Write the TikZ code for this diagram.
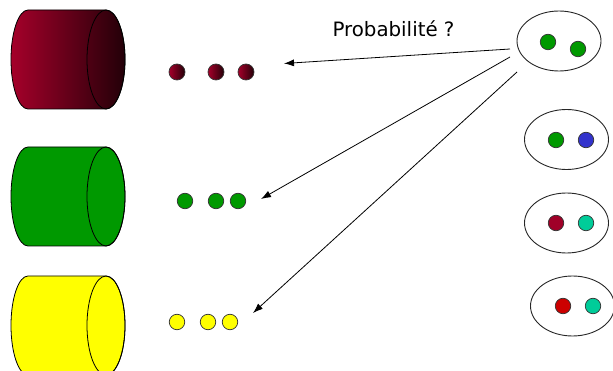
\documentclass[tikz,border=0pt]{standalone}
\usepackage{fontspec}
\setmainfont{DejaVu Sans}
\usetikzlibrary{shapes.geometric,arrows.meta}
\definecolor{cred}{RGB}{165,0,42}
\definecolor{cdark}{RGB}{35,0,8}
\definecolor{cgreen}{RGB}{0,153,0}
\definecolor{cyel}{RGB}{255,255,0}
\definecolor{cblue}{RGB}{51,51,204}
\definecolor{cteal}{RGB}{0,204,153}
\definecolor{cdred}{RGB}{160,0,40}
\definecolor{cbright}{RGB}{204,0,0}
\tikzset{
  dot/.style={circle,draw=black!80,line width=0.7pt,minimum size=15.5pt,inner sep=0pt},
  grp/.style={ellipse,draw=black!85,line width=0.9pt,minimum width=84pt,minimum height=60pt,inner sep=0pt},
  arr/.style={line width=0.8pt,-{Latex[length=10pt,width=7pt]}},
  cylline/.style={draw=black,line width=0.8pt}
}
\newcommand{\mycyl}[3]{% top y, bottom y, fill options
  \path[cylline,#3] (28,#1) -- (106,#1)
     arc[start angle=90,end angle=-90,x radius=19pt,y radius=49.5pt]
     -- (28,#2)
     arc[start angle=270,end angle=90,x radius=17pt,y radius=49.5pt] -- cycle;
}
\begin{document}
\begin{tikzpicture}[x=1pt,y=-1pt]
\useasboundingbox (0,0) rectangle (613,371);
% cylinders
\mycyl{10}{109}{left color=cred,right color=cdark}
\draw[line width=0.8pt] (106,59.5) ellipse[x radius=19pt,y radius=49.5pt];
\mycyl{147}{246}{fill=cgreen}
\draw[line width=0.8pt] (106,196.5) ellipse[x radius=19pt,y radius=49.5pt];
\mycyl{276}{375}{fill=cyel}
\draw[line width=0.8pt] (106,325.5) ellipse[x radius=19pt,y radius=49.5pt];
% dots
\node[dot,minimum size=16pt,left color=cred,right color=cdark] (r1) at (177,72) {};
\node[dot,minimum size=16pt,left color=cred,right color=cdark] (r2) at (216,72) {};
\node[dot,minimum size=16pt,left color=cred,right color=cdark] (r3) at (246,72) {};
\node[dot,fill=cgreen] (g1) at (185,201) {};
\node[dot,fill=cgreen] (g2) at (216,201) {};
\node[dot,fill=cgreen] (g3) at (238,201) {};
\node[dot,fill=cyel] (y1) at (177,322) {};
\node[dot,fill=cyel] (y2) at (208,322) {};
\node[dot,fill=cyel] (y3) at (230,322) {};
% groups
\node[grp] (e1) at (559,41) {};
\node[dot,fill=cgreen] (e1a) at (548,42) {};
\node[dot,fill=cgreen] (e1b) at (578,49) {};
\node[grp] (e2) at (566.5,139.5) {};
\node[dot,fill=cgreen] (e2a) at (556,140) {};
\node[dot,fill=cblue] (e2b) at (586,140) {};
\node[grp] (e3) at (566.5,223) {};
\node[dot,fill=cdred] (e3a) at (556,223) {};
\node[dot,fill=cteal] (e3b) at (586,223) {};
\node[grp] (e4) at (572.5,306) {};
\node[dot,fill=cbright] (e4a) at (563,306) {};
\node[dot,fill=cteal] (e4b) at (593,306) {};
% arrows
\coordinate (s1) at (510,49);
\coordinate (s2) at (510,57);
\coordinate (s3) at (517,72);
\coordinate (t1) at (284,63.5);
\coordinate (t2) at (261,199);
\coordinate (t3) at (253,313);
\draw[arr] (s1) -- (t1);
\draw[arr] (s2) -- (t2);
\draw[arr] (s3) -- (t3);
\node[anchor=base,font=\fontsize{19.8}{22}\selectfont,inner sep=0pt] (lbl) at (393.5,36.7) {Probabilité ?};
\end{tikzpicture}
\end{document}
